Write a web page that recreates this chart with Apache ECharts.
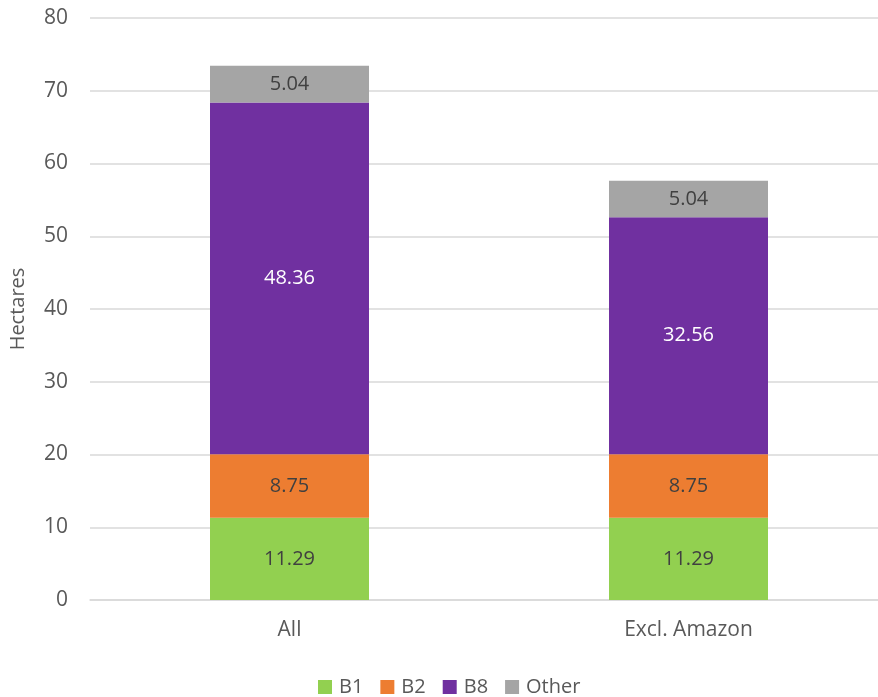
<!DOCTYPE html>
<html>
<head>
<meta charset="utf-8">
<script src="https://cdn.jsdelivr.net/npm/echarts@6/dist/echarts.min.js"></script>
<style>
  html, body { margin: 0; padding: 0; background: #ffffff; overflow: hidden; }
  /* the plot area runs a little past the right edge of the page */
  #chart { width: 888px; height: 697px; }
</style>
</head>
<body>
<div id="chart"></div>
<script>
// Land use in hectares by use class
const categories = ['All', 'Excl. Amazon'];
const b1 = [11.29, 11.29];
const b2 = [8.75, 8.75];
const b8 = [48.36, 32.56];
const other = [5.04, 5.04];
const yTicks = { min: 0, max: 80, interval: 10 };

const FONT = '"Open Sans", "Liberation Sans", sans-serif';
const TEXT = '#595959';

function seg(name, data, color, labelColor) {
  return {
    name: name,
    type: 'bar',
    stack: 'total',
    data: data,
    barWidth: 159,
    itemStyle: { color: color },
    label: {
      show: true,
      position: 'inside',
      color: labelColor,
      fontFamily: FONT,
      fontSize: 20,
      formatter: p => p.value.toFixed(2)
    }
  };
}

const chart = echarts.init(document.getElementById('chart'), null, { renderer: 'canvas' });
chart.setOption({
  animation: false,
  textStyle: { fontFamily: FONT },
  grid: { left: 89, right: 0, top: 18, height: 582, containLabel: false },
  legend: {
    top: 677,
    left: 318,
    padding: 0,
    itemWidth: 14,
    itemHeight: 14,
    itemGap: 17,
    icon: 'rect',
    textStyle: { color: TEXT, fontSize: 20, lineHeight: 18, fontFamily: FONT, padding: [0, 0, 0, 2] },
    data: ['B1', 'B2', 'B8', 'Other']
  },
  xAxis: {
    type: 'category',
    data: categories,
    axisLine: { show: true, lineStyle: { color: '#d9d9d9', width: 1.5 } },
    axisTick: { show: false },
    axisLabel: { color: TEXT, fontSize: 21, margin: 20 }
  },
  yAxis: {
    type: 'value',
    min: yTicks.min,
    max: yTicks.max,
    interval: yTicks.interval,
    name: 'Hectares',
    nameLocation: 'middle',
    nameGap: 62,
    nameRotate: 90,
    nameTextStyle: { color: TEXT, fontSize: 20 },
    axisLine: { show: false },
    axisTick: { show: false },
    axisLabel: { color: TEXT, fontSize: 21, margin: 22 },
    splitLine: { lineStyle: { color: '#d9d9d9', width: 1.5 } }
  },
  series: [
    seg('B1', b1, '#92d050', '#404040'),
    seg('B2', b2, '#ed7d31', '#404040'),
    seg('B8', b8, '#7030a0', '#ffffff'),
    seg('Other', other, '#a5a5a5', '#404040')
  ]
});
</script>
</body>
</html>
